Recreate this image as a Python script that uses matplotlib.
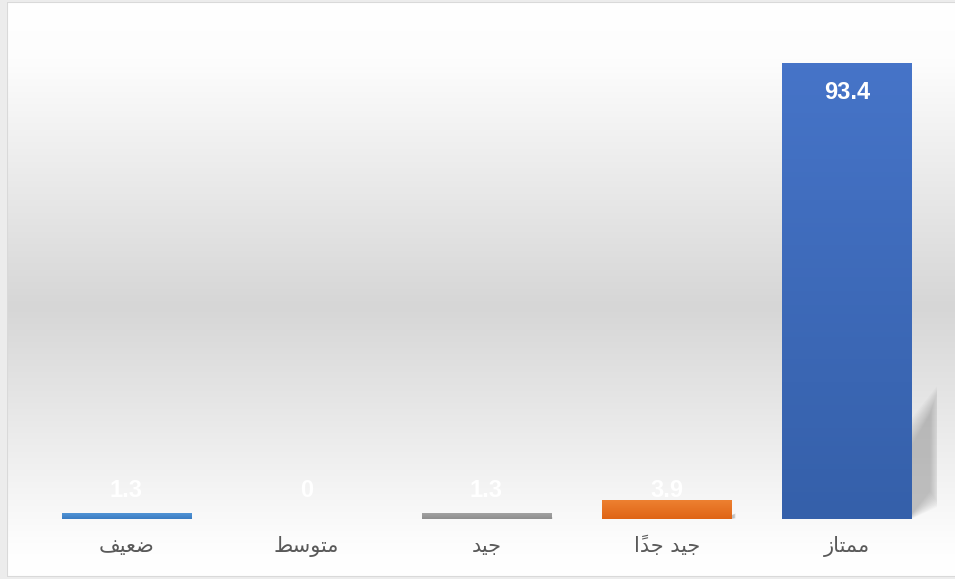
import numpy as np
import matplotlib
matplotlib.use("Agg")
import matplotlib.pyplot as plt
from matplotlib.patches import Rectangle, Polygon

# categories read right-to-left in the reference (Excel RTL axis)
categories = ['ممتاز', 'جيد جداً', 'جيد', 'متوسط', 'ضعيف']
values = [93.4, 3.9, 1.3, 0, 1.3]
# (top colour, bottom colour) for each bar
bar_colors = [('#4674c8', '#3560aa'), ('#ee8232', '#df6416'), ('#a5a5a5', '#8e8e8e'),
              ('#ffc000', '#e0a800'), ('#5497d8', '#3a7cc2')]

# --- tiny arabic shaper (matplotlib has no complex text layout) ---
FORMS = {
    'ا': (0xFE8D, 0xFE8E, None, None), 'أ': (0xFE83, 0xFE84, None, None),
    'د': (0xFEA9, 0xFEAA, None, None), 'ز': (0xFEAF, 0xFEB0, None, None),
    'و': (0xFEED, 0xFEEE, None, None),
    'ت': (0xFE95, 0xFE96, 0xFE97, 0xFE98), 'ج': (0xFE9D, 0xFE9E, 0xFE9F, 0xFEA0),
    'س': (0xFEB1, 0xFEB2, 0xFEB3, 0xFEB4), 'ض': (0xFEBD, 0xFEBE, 0xFEBF, 0xFEC0),
    'ط': (0xFEC1, 0xFEC2, 0xFEC3, 0xFEC4), 'ع': (0xFEC9, 0xFECA, 0xFECB, 0xFECC),
    'ف': (0xFED1, 0xFED2, 0xFED3, 0xFED4), 'م': (0xFEE1, 0xFEE2, 0xFEE3, 0xFEE4),
    'ي': (0xFEF1, 0xFEF2, 0xFEF3, 0xFEF4),
}
MARKS = {'\u064B'}


def shape(text):
    letters = [c for c in text]
    out = []
    for i, c in enumerate(letters):
        if c not in FORMS:
            out.append([c])
            continue
        # neighbours, skipping marks
        j = i - 1
        while j >= 0 and letters[j] in MARKS:
            j -= 1
        k = i + 1
        while k < len(letters) and letters[k] in MARKS:
            k += 1
        prev_joins = j >= 0 and letters[j] in FORMS and FORMS[letters[j]][2] is not None
        next_joins = (FORMS[c][2] is not None and k < len(letters) and letters[k] in FORMS)
        iso, fin, ini, med = FORMS[c]
        if prev_joins and next_joins:
            g = med
        elif prev_joins:
            g = fin
        elif next_joins:
            g = ini
        else:
            g = iso
        out.append([chr(g)])
    # attach marks to their base, then reverse into visual order
    groups = []
    for i, c in enumerate(letters):
        if c in MARKS and groups:
            groups[-1].append(c)
        else:
            groups.append(out[i])
    return ''.join(''.join(g) for g in reversed(groups))


fig = plt.figure(figsize=(9.55, 5.79), dpi=100)
fig.patch.set_facecolor('#ececec')

# chart area with a white-grey-white vertical gradient
bg = fig.add_axes([7 / 955, 2 / 579, 1 - 7 / 955, 575 / 579])
bg.set_axis_off()
t = np.linspace(0, 1, 300)
shade = np.interp(t, [0, 0.1, 0.53, 0.95, 1], [1.0, 0.992, 0.84, 0.995, 1.0])
bg.imshow(np.dstack([shade, shade, shade]).reshape(300, 1, 3),
          aspect='auto', extent=[0, 1, 0, 1], origin='upper')
bg.set_xlim(0, 1)
bg.set_ylim(0, 1)
bg.add_patch(Rectangle((0, 0), 1.2, 1, fill=False, edgecolor='#d9d9d9', lw=1.5))

ax = fig.add_axes([36 / 955, 60 / 579, 901 / 955, 488 / 579])
ax.patch.set_alpha(0)
x = np.arange(len(categories))
width = 0.716
bars = ax.bar(x, values, width=width, color='none', edgecolor='none', zorder=3)

for i, (b, (c1, c2)) in enumerate(zip(bars, bar_colors)):
    h = values[i]
    if h <= 0:
        continue
    grad = np.linspace(0, 1, 100)[:, None]
    cmap = matplotlib.colors.LinearSegmentedColormap.from_list('g%d' % i, [c1, c2])
    im = ax.imshow(grad, cmap=cmap, aspect='auto', zorder=3,
                   extent=[b.get_x(), b.get_x() + width, 0, h], origin='upper')
    im.set_clip_path(b)
    # soft skewed shadow on the screen-right side (axis is inverted)
    xr = b.get_x()
    dx = 0.16 * min(1.0, h / 25)
    n = 12
    for s in range(n):
        f = s / (n - 1)  # 0 = outer, 1 = inner
        w_s = dx * (1.0 - 0.35 * f)
        poly = Polygon([(xr, 0.01 * h * f), (xr - w_s, 0.03 * h + 0.03 * h * f),
                        (xr - w_s, 0.30 * h - 0.07 * h * f), (xr, 0.22 * h - 0.06 * h * f)],
                       closed=True, facecolor='#7a7a7a', edgecolor='none',
                       alpha=0.045, zorder=2)
        ax.add_patch(poly)

for i, v in enumerate(values):
    ax.text(x[i], max(v - 6.1, 5.9), '%g' % v, ha='center', va='center',
            color='white', fontsize=17, fontweight='bold',
            family='Liberation Sans', zorder=5)

ax.set_xlim(-0.5, len(categories) - 0.5)
ax.invert_xaxis()
ax.set_ylim(0, 100)
ax.set_xticks(x)
ax.set_xticklabels([shape(c) for c in categories], family='DejaVu Sans',
                   fontsize=15, color='#595959')
ax.tick_params(axis='x', length=0, pad=12)
ax.set_yticks([])
for sp in ax.spines.values():
    sp.set_visible(False)

fig.savefig('out.png', dpi=100, facecolor=fig.get_facecolor())
